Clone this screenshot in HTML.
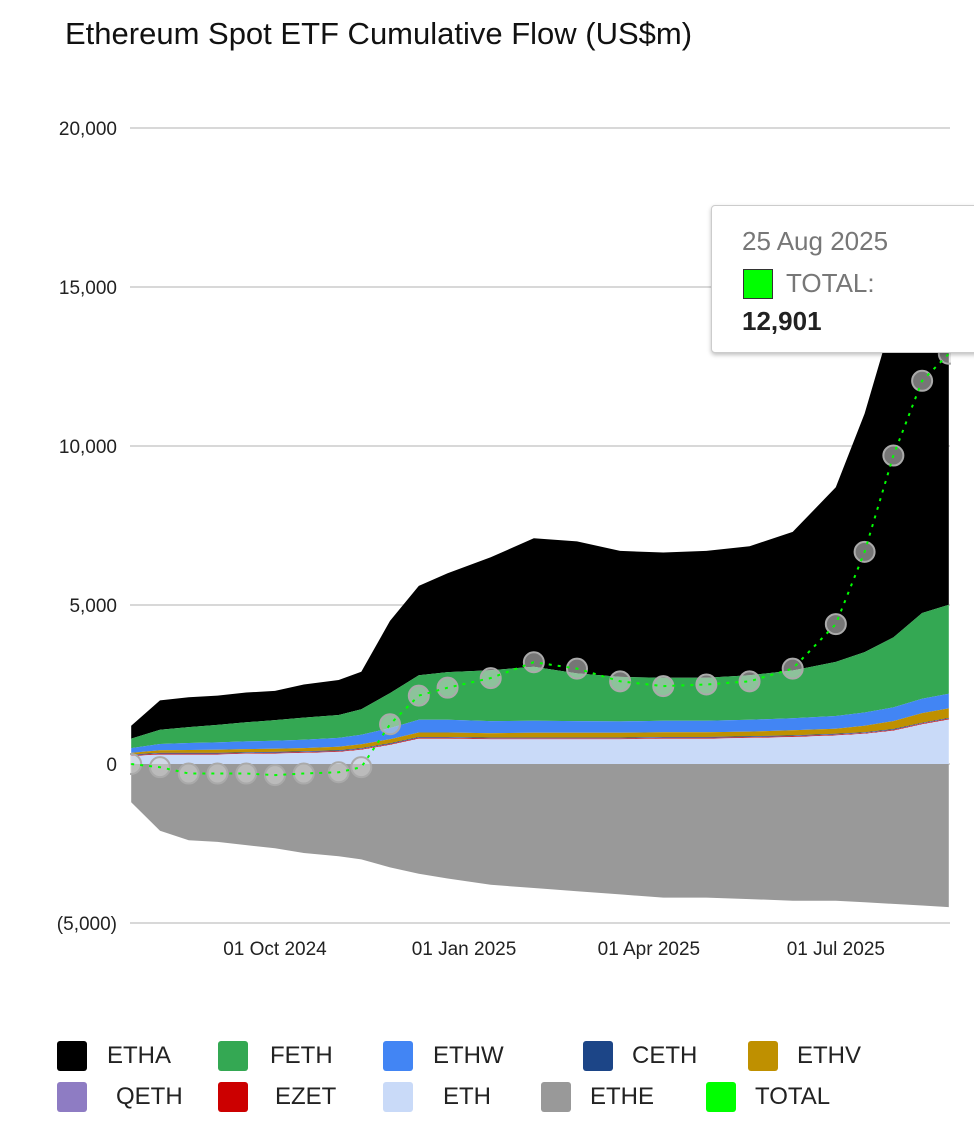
<!DOCTYPE html>
<html><head><meta charset="utf-8"><style>
body{margin:0;background:#fff;font-family:"Liberation Sans",Arial,sans-serif;}
#wrap{position:relative;width:974px;height:1140px;overflow:hidden;}
.t{position:absolute;white-space:nowrap;}
.sw{position:absolute;width:30px;height:30px;border-radius:3px;}
.lg{position:absolute;font-size:24px;color:#222;}
</style></head><body>
<div id="wrap">
<div class="t" style="left:65px;top:16px;font-size:31px;color:#111;">Ethereum Spot ETF Cumulative Flow (US$m)</div>
<svg id="chart" width="974" height="1140" style="position:absolute;left:0;top:0"></svg>
<div style="position:absolute;left:711px;top:205px;width:280px;height:146px;background:#fff;border:1px solid #ccc;border-radius:4px;box-shadow:0 2px 4px rgba(0,0,0,0.25);">
<div class="t" style="left:30px;top:20px;font-size:26px;color:#777;">25 Aug 2025</div>
<div style="position:absolute;left:31px;top:63px;width:28px;height:28px;background:#00ff00;border:1px solid #333;"></div>
<div class="t" style="left:74px;top:62px;font-size:26px;color:#777;">TOTAL:</div>
<div class="t" style="left:30px;top:100px;font-size:26px;font-weight:bold;color:#222;">12,901</div>
</div>
<div id="legend"></div>
</div>
<script>
const dates=["2024-07-23","2024-08-06","2024-08-20","2024-09-03","2024-09-17","2024-10-01","2024-10-15","2024-11-01","2024-11-12","2024-11-26","2024-12-10","2024-12-24","2025-01-14","2025-02-04","2025-02-25","2025-03-18","2025-04-08","2025-04-29","2025-05-20","2025-06-10","2025-07-01","2025-07-15","2025-07-29","2025-08-12","2025-08-25"];
const ETH=[250,300,300,300,320,330,350,380,450,600,800,800,780,780,780,780,800,800,820,850,900,950,1050,1250,1400];
const EZET=[20,20,20,20,20,20,20,20,20,20,20,20,20,20,20,20,20,20,20,20,20,20,20,20,20];
const QETH=[10,10,10,10,10,10,10,10,10,10,10,10,10,10,10,10,10,10,10,10,10,10,10,10,10];
const CETH=[20,20,20,20,20,20,20,20,20,20,20,20,20,20,20,20,20,20,20,20,20,20,20,20,20];
const ETHV=[50,80,90,100,100,100,100,110,120,130,140,140,140,150,150,150,150,150,150,160,160,200,250,300,300];
const ETHW=[150,200,220,230,240,250,260,280,300,350,400,400,380,380,370,360,360,360,370,380,400,420,430,450,460];
const FETH=[300,450,500,550,600,650,700,720,800,1100,1400,1500,1600,1700,1500,1400,1350,1350,1400,1500,1700,1900,2200,2700,2800];
const ETHA=[400,920,940,920,940,920,1040,1100,1180,2270,2810,3110,3550,4040,4150,3960,3940,3990,4060,4360,5490,7500,10120,11750,12390];
const ETHE=[-1200,-2100,-2400,-2450,-2550,-2650,-2800,-2900,-3000,-3250,-3450,-3600,-3800,-3900,-4000,-4100,-4200,-4200,-4250,-4300,-4300,-4350,-4400,-4450,-4500];
const yTicks=[20000,15000,10000,5000,0,-5000];
const yTickLabels=["20,000","15,000","10,000","5,000","0","(5,000)"];
const xTicks=["2024-10-01","2025-01-01","2025-04-01","2025-07-01"];
const xTickLabels=["01 Oct 2024","01 Jan 2025","01 Apr 2025","01 Jul 2025"];

const NS="http://www.w3.org/2000/svg";
const svg=document.getElementById('chart');
const t0=Date.parse("2024-10-01"),px0=275,pxPerDay=189/92;
function X(d){return px0+(Date.parse(d)-t0)/86400000*pxPerDay;}
function Y(v){return 764-v*159/5000;}
function mk(tag,attrs){const e=document.createElementNS(NS,tag);for(const k in attrs)e.setAttribute(k,attrs[k]);svg.appendChild(e);return e;}
const clip=mk('clipPath',{id:'pc'});
const cr=document.createElementNS(NS,'rect');cr.setAttribute('x',130);cr.setAttribute('y',80);cr.setAttribute('width',821);cr.setAttribute('height',900);clip.appendChild(cr);
yTicks.forEach((v,i)=>{
 const g=mk('line',{x1:130,x2:950,y1:Y(v),y2:Y(v),stroke:'#cccccc','stroke-width':1.5});
 
 const t=mk('text',{x:117,y:Y(v)+7,'text-anchor':'end','font-size':19,fill:'#222','font-family':'Liberation Sans, sans-serif'});
 t.textContent=yTickLabels[i];
 
});
xTicks.forEach((d,i)=>{
 const t=mk('text',{x:X(d),y:955,'text-anchor':'middle','font-size':19,fill:'#222','font-family':'Liberation Sans, sans-serif'});
 t.textContent=xTickLabels[i];
 
});
const stack=[["ETH",ETH,"#c9daf8"],["EZET",EZET,"#cc0000"],["QETH",QETH,"#8e7cc3"],["CETH",CETH,"#1c4587"],["ETHV",ETHV,"#bf9000"],["ETHW",ETHW,"#4285f4"],["FETH",FETH,"#34a853"],["ETHA",ETHA,"#000000"]];
const g=mk('g',{'clip-path':'url(#pc)'});
function area(lo,hi,color,name){
 let d='';
 for(let i=0;i<dates.length;i++)d+=(i?'L':'M')+X(dates[i]).toFixed(1)+','+Y(hi[i]).toFixed(1);
 for(let i=dates.length-1;i>=0;i--)d+='L'+X(dates[i]).toFixed(1)+','+Y(lo[i]).toFixed(1);
 const p=document.createElementNS(NS,'path');p.setAttribute('d',d+'Z');p.setAttribute('fill',color);
 
 
 g.appendChild(p);
}
let base=dates.map(()=>0);
const areas=[];
stack.forEach(s=>{const top=base.map((b,i)=>b+s[1][i]);areas.push([base,top,s[2],'area-'+s[0].toLowerCase()]);base=top;});
areas.reverse().forEach(a=>area(a[0],a[1],a[2],a[3]));
area(dates.map(()=>0),ETHE,'#999999','area-ethe');
const total=dates.map((d,i)=>stack.reduce((s,x)=>s+x[1][i],0)+ETHE[i]);
total.forEach((v,i)=>{
 const c=document.createElementNS(NS,'circle');
 c.setAttribute('cx',X(dates[i]));c.setAttribute('cy',Y(v));c.setAttribute('r',10);
 c.setAttribute('fill','rgba(215,215,215,0.55)');c.setAttribute('stroke','#aaa');c.setAttribute('stroke-width',2);
 
 
 g.appendChild(c);
});
let ld='';total.forEach((v,i)=>ld+=(i?'L':'M')+X(dates[i]).toFixed(1)+','+Y(v).toFixed(1));
const tl=document.createElementNS(NS,'path');tl.setAttribute('d',ld);tl.setAttribute('fill','none');tl.setAttribute('stroke','#00ff00');tl.setAttribute('stroke-width',2);tl.setAttribute('stroke-dasharray','3,6');


g.appendChild(tl);
svg.appendChild(g);
const legendItems=[["ETHA","#000000",57,107,1056],["FETH","#34a853",218,270,1056],["ETHW","#4285f4",383,433,1056],["CETH","#1c4587",583,632,1056],["ETHV","#bf9000",748,797,1056],
["QETH","#8e7cc3",57,116,1097],["EZET","#cc0000",218,275,1097],["ETH","#c9daf8",383,443,1097],["ETHE","#999999",541,590,1097],["TOTAL","#00ff00",706,755,1097]];
const lg=document.getElementById('legend');
legendItems.forEach(it=>{
 const s=document.createElement('div');s.className='sw';s.style.left=it[2]+'px';s.style.top=(it[4]-15)+'px';s.style.background=it[1];
 
 
 lg.appendChild(s);
 const l=document.createElement('div');l.className='lg';l.style.left=it[3]+'px';l.style.top=(it[4]-14)+'px';l.textContent=it[0];
 
 
 lg.appendChild(l);
});
</script>
</body></html>
